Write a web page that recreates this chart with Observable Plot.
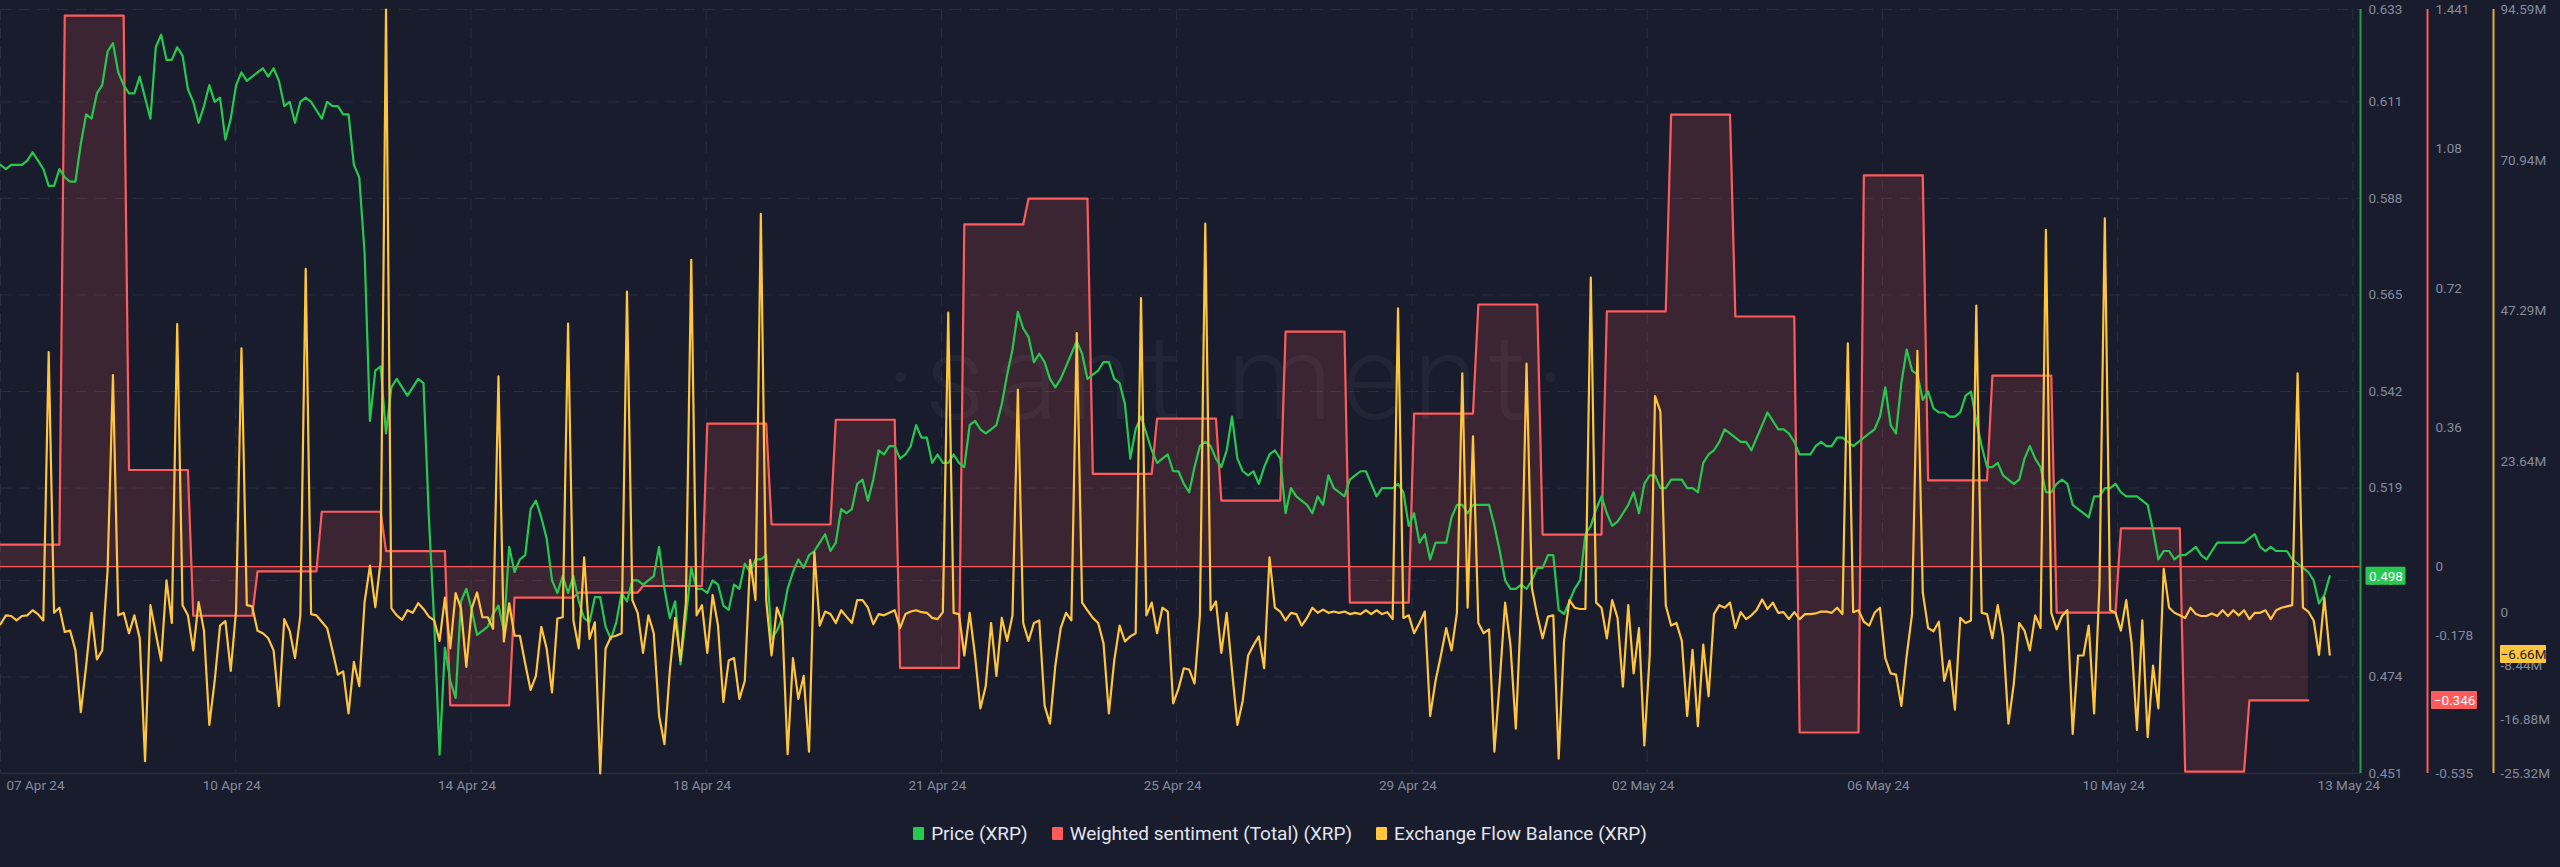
<!DOCTYPE html>
<html><head><meta charset="utf-8">
<script src="https://cdn.jsdelivr.net/npm/d3@7"></script>
<script src="https://cdn.jsdelivr.net/npm/@observablehq/plot@0.6"></script>
<style>
html,body{margin:0;padding:0;background:#191c2c;}
body{width:2560px;height:867px;overflow:hidden;font-family:Roboto,"Noto Sans",sans-serif;}
#legend{display:flex;justify-content:center;align-items:center;gap:24px;height:67px;color:#e2e5ee;font-size:19px;}
.item{display:flex;align-items:center;gap:7px}
.sw{width:11px;height:13px;border-radius:1px;display:inline-block}
</style></head><body>
<div id="chart"></div>
<div id="legend"></div>
<script>
// ---- data (2-hour steps from startTime) ----
const startTime = "2024-04-07T00:00:00Z";
const endTime = "2024-05-13T17:30:00Z";
const stepHours = 2;

const price = [
0.596,0.595,0.596,0.596,0.596,0.597,0.599,0.597,0.595,0.591,0.591,0.595,
0.593,0.592,0.592,0.601,0.608,0.607,0.613,0.615,0.623,0.625,0.618,0.615,
0.613,0.613,0.617,0.612,0.607,0.624,0.627,0.621,0.621,0.624,0.622,0.614,
0.611,0.606,0.610,0.615,0.611,0.612,0.602,0.607,0.615,0.618,0.616,0.617,
0.618,0.619,0.617,0.619,0.616,0.610,0.611,0.606,0.611,0.612,0.611,0.609,
0.607,0.611,0.610,0.610,0.608,0.608,0.596,0.593,0.575,0.535,0.547,0.548,
0.532,0.543,0.545,0.543,0.541,0.543,0.545,0.544,0.512,0.487,0.4555,0.481,
0.473,0.469,0.492,0.495,0.490,0.484,0.485,0.486,0.489,0.491,0.485,0.505,
0.499,0.502,0.503,0.514,0.516,0.512,0.507,0.497,0.494,0.498,0.494,0.498,
0.492,0.488,0.487,0.493,0.493,0.486,0.483,0.487,0.494,0.492,0.497,0.497,
0.496,0.497,0.498,0.505,0.495,0.488,0.492,0.477,0.488,0.500,0.495,0.495,
0.494,0.497,0.496,0.491,0.490,0.496,0.495,0.501,0.499,0.502,0.502,0.503,
0.483,0.485,0.488,0.495,0.499,0.502,0.500,0.503,0.504,0.506,0.508,0.504,
0.506,0.514,0.513,0.514,0.520,0.521,0.516,0.521,0.528,0.527,0.529,0.529,
0.526,0.527,0.529,0.534,0.531,0.531,0.525,0.527,0.525,0.525,0.527,0.525,
0.524,0.534,0.535,0.533,0.532,0.533,0.534,0.539,0.546,0.552,0.561,0.557,
0.555,0.549,0.551,0.549,0.545,0.543,0.545,0.548,0.551,0.554,0.551,0.545,
0.546,0.547,0.549,0.549,0.545,0.544,0.539,0.526,0.533,0.536,0.532,0.528,
0.525,0.526,0.527,0.523,0.523,0.520,0.518,0.524,0.529,0.530,0.529,0.526,
0.524,0.528,0.536,0.526,0.523,0.522,0.523,0.520,0.524,0.527,0.528,0.526,
0.513,0.519,0.517,0.516,0.515,0.513,0.517,0.515,0.522,0.519,0.518,0.517,
0.521,0.522,0.523,0.523,0.520,0.517,0.519,0.519,0.519,0.520,0.518,0.510,
0.513,0.506,0.508,0.502,0.506,0.506,0.506,0.512,0.515,0.515,0.513,0.515,
0.515,0.515,0.515,0.510,0.504,0.497,0.495,0.495,0.496,0.495,0.497,0.500,
0.500,0.503,0.503,0.490,0.489,0.492,0.495,0.497,0.508,0.510,0.514,0.517,
0.513,0.510,0.511,0.513,0.515,0.518,0.513,0.520,0.522,0.522,0.519,0.519,
0.521,0.521,0.521,0.519,0.519,0.518,0.525,0.527,0.528,0.530,0.533,0.532,
0.531,0.530,0.530,0.528,0.531,0.534,0.537,0.535,0.533,0.533,0.532,0.530,
0.527,0.527,0.527,0.529,0.530,0.529,0.529,0.531,0.531,0.530,0.529,0.530,
0.531,0.532,0.533,0.536,0.543,0.534,0.532,0.544,0.552,0.547,0.546,0.540,
0.542,0.538,0.537,0.537,0.536,0.536,0.537,0.541,0.542,0.535,0.529,0.524,
0.524,0.525,0.522,0.521,0.520,0.521,0.526,0.529,0.526,0.524,0.518,0.518,
0.520,0.521,0.520,0.515,0.514,0.513,0.512,0.517,0.517,0.519,0.519,0.520,
0.518,0.517,0.517,0.517,0.516,0.515,0.509,0.502,0.504,0.504,0.502,0.503,
0.503,0.504,0.505,0.503,0.502,0.504,0.506,0.506,0.506,0.506,0.506,0.506,
0.507,0.508,0.505,0.504,0.505,0.504,0.504,0.504,0.502,0.501,0.500,0.499,
0.497,0.4915,0.4935,0.498
];

const flowM = [
-1.9,-0.5,-0.6,-1.3,-0.6,-0.5,0.3,-0.3,-1.3,40.8,-0.1,0.7,
-3.1,-2.9,-6.0,-15.7,-8.4,-0.1,-7.4,-6.0,6.6,37.2,-0.5,-0.1,
-3.3,-0.5,-4.1,-23.4,1.1,-3.3,-7.6,5.0,-1.7,45.2,1.1,-0.5,
-6.0,1.6,-2.9,-17.7,-10.8,-2.1,-1.4,-9.2,0.3,41.4,1.1,0.9,
-2.9,-3.3,-4.1,-6.0,-14.7,-1.1,-2.9,-7.2,-0.5,53.9,-0.3,-0.5,
-1.5,-2.5,-6.0,-9.8,-9.3,-15.9,-7.8,-11.6,1.6,7.3,0.8,8.1,
94.59,0.6,-0.5,-1.2,0.3,-0.1,1.4,0.5,-0.7,-1.3,-4.5,2.3,
-5.7,3.0,0.6,-8.6,0.6,3.1,-0.8,-0.8,-2.6,37.0,-4.6,1.4,
-3.7,-3.7,-8.1,-12.2,-10.0,-2.3,-5.7,-12.6,-1.0,-0.8,45.3,-1.3,
-5.7,8.6,-4.2,-1.6,-25.32,-5.7,-3.9,-3.7,-3.3,50.3,1.9,-0.1,
-6.4,-0.5,-3.3,-16.3,-20.7,-9.2,-0.9,-7.6,1.5,55.3,-0.5,1.1,
-6.4,2.7,-2.1,-14.1,-7.6,-7.2,-13.6,-10.8,8.2,1.9,62.5,1.9,
-6.8,0.7,-1.5,-22.3,-7.2,-13.6,-10.0,-21.9,9.4,-2.1,0.1,-0.3,
-1.7,0.3,-0.7,-1.7,1.9,1.9,0.7,-1.9,-0.3,-0.5,-0.1,0.3,
-2.5,-0.3,0.1,0.3,0.0,-0.1,-0.9,-1.1,0.0,47.0,-0.1,-0.3,
-6.8,-0.1,-6.8,-15.1,-11.6,-1.7,-10.0,-0.9,-4.5,-0.5,34.9,-1.7,
-4.5,-1.7,-1.3,-14.7,-17.5,-8.4,-2.5,-0.1,-1.3,43.8,1.5,0.3,
-0.9,-1.7,-4.9,-15.9,-7.6,-2.1,-4.6,-3.8,-3.3,49.3,-0.5,1.5,
-3.3,0.7,0.1,-14.3,-12.0,-8.8,-9.0,-11.2,-0.5,61.0,0.3,1.7,
-6.4,-0.1,-9.2,-17.7,-13.9,-6.8,-5.2,-3.8,-8.8,8.6,0.7,0.1,
-1.3,-0.1,-0.3,-2.1,-0.9,0.7,-0.1,0.4,-0.1,0.1,-0.1,0.1,
-0.3,-0.1,-0.3,0.3,-0.3,0.3,-0.3,0.0,-1.1,47.7,-0.9,-0.5,
-3.3,-1.7,0.1,-16.3,-10.8,-6.8,-2.5,-6.0,-0.1,37.5,0.7,27.6,
-1.7,-3.3,-2.7,-21.9,-10.8,1.5,-5.2,-18.3,1.1,39.0,3.8,-0.5,
-4.1,-0.7,-0.5,-23.0,-4.5,1.9,0.7,0.5,0.5,52.5,1.5,0.7,
-4.1,1.9,-0.9,-11.7,1.1,-9.6,-2.5,-20.9,-6.8,33.9,31.5,1.1,
-2.1,-1.7,-4.5,-16.3,-5.9,-17.9,-5.1,-13.2,-0.3,1.1,0.7,1.5,
-2.5,0.0,-1.1,-0.5,0.4,2.0,0.5,1.5,-0.1,0.0,-1.1,0.0,
-1.1,-0.3,-0.3,-0.2,0.1,0.1,-0.1,0.7,-0.3,42.2,0.0,0.3,
-1.5,-2.1,-0.1,0.7,-7.2,-9.6,-9.8,-14.7,-6.8,-0.3,41.0,3.1,
-2.5,-3.0,-1.5,-10.8,-7.6,-15.3,-0.9,-1.7,-1.3,48.1,-0.1,-0.3,
-4.1,1.1,-3.8,-17.5,-11.2,-1.7,-2.9,-6.0,-0.5,-2.5,60.0,-0.1,
-2.7,-0.6,0.3,-19.1,-6.8,-6.8,-2.1,-15.9,4.2,61.8,0.3,-0.1,
-2.9,1.9,-4.9,-18.5,-1.3,-19.6,-8.4,-15.1,6.8,0.7,-0.1,-0.5,
-0.9,0.7,-0.3,-0.6,-0.6,-0.2,-0.6,0.3,-0.6,0.3,-0.5,0.3,
-1.1,-0.1,-0.1,0.3,-1.1,0.3,0.7,0.9,1.1,37.5,0.7,0.1,
-1.3,-6.7,2.3,-6.66
];

// one value per day (07 Apr .. 12 May)
const sentimentDaily = [
0.057,1.425,0.250,-0.127,-0.012,0.142,0.040,-0.359,-0.080,-0.067,-0.050,0.370,
0.109,0.380,-0.262,0.885,0.952,0.240,0.383,0.171,0.608,-0.093,0.396,0.678,
0.083,0.660,1.169,0.647,-0.429,1.012,0.223,0.494,-0.119,0.099,-0.530,-0.346
];

const xTickDates = ["2024-04-07T00:00Z","2024-04-10T15:52Z","2024-04-14T07:44Z","2024-04-17T23:35Z",
"2024-04-21T15:27Z","2024-04-25T07:19Z","2024-04-28T23:11Z","2024-05-02T15:03Z","2024-05-06T06:55Z",
"2024-05-09T22:47Z","2024-05-13T14:38Z"];
const xTickLabels = ["07 Apr 24","10 Apr 24","14 Apr 24","18 Apr 24","21 Apr 24","25 Apr 24",
"29 Apr 24","02 May 24","06 May 24","10 May 24","13 May 24"];

const priceDomain = [0.451, 0.633];
const priceTicks = [0.633,0.611,0.588,0.565,0.542,0.519,0.497,0.474,0.451];
const sentDomain = [-0.535, 1.441];
const sentTicks = [1.441,1.08,0.72,0.36,0,-0.178,-0.535];
const sentTickLabels = ["1.441","1.08","0.72","0.36","0","-0.178","-0.535"];
const flowDomain = [-25.32, 94.59];
const flowTicks = [94.59,70.94,47.29,23.64,0,-8.44,-16.88,-25.32];
const flowTickLabels = ["94.59M","70.94M","47.29M","23.64M","0","-8.44M","-16.88M","-25.32M"];

const seriesNames = ["Price (XRP)","Weighted sentiment (Total) (XRP)","Exchange Flow Balance (XRP)"];
const watermark = "·santiment·";
const colors = {price:"#26c94f", priceAxis:"#22a142", sent:"#ff5b5b", flow:"#ffc53d", flowAxis:"#e0ad35"};

// ---- build ----
const t0 = new Date(startTime).getTime();
const step = stepHours*3600*1000;
const at = i => new Date(t0 + i*step);
const toP = (v, dom) => priceDomain[0] + (v - dom[0])/(dom[1]-dom[0])*(priceDomain[1]-priceDomain[0]);

const priceRows = price.map((v,i)=>({t:at(i), v}));
const flowRows = flowM.map((v,i)=>({t:at(i), v:toP(v, flowDomain)}));
const sentRows = [];
sentimentDaily.forEach((v,d)=>{ for(let k=0;k<12;k++) sentRows.push({t:at(d*12+k), v:toP(v, sentDomain)}); });
const zeroP = toP(0, sentDomain);
const xEnd = new Date(endTime);
const xTicks = xTickDates.map(d=>new Date(d));
const sentMap = new Map(sentTicks.map((v,i)=>[toP(v,sentDomain), sentTickLabels[i]]));
const flowMap = new Map(flowTicks.map((v,i)=>[toP(v,flowDomain), flowTickLabels[i]]));

const lastPrice = price[price.length-1];
const lastSent = sentimentDaily[sentimentDaily.length-1];
const lastFlow = flowM[flowM.length-1];
const hP = 9*(priceDomain[1]-priceDomain[0])/764;

const badge = (yv, dx, w, fill) => Plot.rect([0], {x1: xEnd, x2: xEnd, y1: yv - hP, y2: yv + hP, dx, insetLeft: -w/2, insetRight: -w/2, fill, rx: 1});
const axisGray = "#858b9f";

const chart = Plot.plot({
  width: 2560, height: 800,
  marginLeft: 0, marginRight: 200, marginTop: 9, marginBottom: 27,
  style: {background: "transparent", color: axisGray, fontFamily: "Roboto, sans-serif", fontSize: "13.5px", overflow: "visible"},
  x: {type: "utc", domain: [new Date(startTime), xEnd], axis: null, label: null},
  y: {domain: priceDomain, axis: null, label: null},
  marks: [
    Plot.gridY(priceTicks, {stroke: "#2a2e41", strokeOpacity: 1, strokeDasharray: "11,8"}),
    Plot.gridX(xTicks, {stroke: "#2a2e41", strokeOpacity: 1, strokeDasharray: "11,8"}),
    Plot.ruleY([priceDomain[0]], {stroke: "#2a2d3e", strokeWidth: 1.5}),
    Plot.text([watermark], {frameAnchor: "middle", dx: 50, dy: -10, fontSize: 118, fontWeight: 300, fill: "#ffffff", fillOpacity: 0.045}),
    Plot.areaY(sentRows, {x: "t", y1: zeroP, y2: "v", fill: colors.sent, fillOpacity: 0.15}),
    Plot.ruleY([zeroP], {stroke: colors.sent, strokeWidth: 1.2}),
    Plot.line(sentRows, {x: "t", y: "v", stroke: colors.sent, strokeWidth: 2.2}),
    Plot.line(priceRows, {x: "t", y: "v", stroke: colors.price, strokeWidth: 2.2}),
    Plot.line(flowRows, {x: "t", y: "v", stroke: colors.flow, strokeWidth: 2.2}),
    Plot.ruleX([xEnd], {stroke: colors.priceAxis, strokeWidth: 2}),
    Plot.ruleX([xEnd], {stroke: colors.sent, strokeWidth: 2, dx: 67}),
    Plot.ruleX([xEnd], {stroke: colors.flowAxis, strokeWidth: 2, dx: 133}),
    Plot.axisY({anchor: "right", label: null, ticks: priceTicks, tickSize: 0, tickPadding: 8, tickFormat: d3.format(".3f"), fill: axisGray}),
    Plot.axisY({anchor: "right", label: null, ticks: sentTicks.map(v=>toP(v,sentDomain)), tickSize: 0, tickPadding: 8, dx: 67, tickFormat: d => sentMap.get(d), fill: axisGray}),
    Plot.axisY({anchor: "right", label: null, ticks: flowTicks.map(v=>toP(v,flowDomain)), tickSize: 0, tickPadding: 7, dx: 133, tickFormat: d => flowMap.get(d), fill: axisGray}),
    Plot.text(xTicks, {filter: (d,i)=> i===0, x: d=>d, text: d=>xTickLabels[0], frameAnchor: "bottom", dy: 16, dx: 6, textAnchor: "start", fontSize: 13.5, fill: axisGray}),
    Plot.text(xTicks, {filter: (d,i)=> i>0, x: d=>d, text: d=>xTickLabels[xTicks.indexOf(d)], frameAnchor: "bottom", dy: 16, dx: -4, textAnchor: "middle", fontSize: 13.5, fill: axisGray}),
    badge(lastPrice, 25.5, 40, "#26c94f"),
    Plot.text([lastPrice], {x: xEnd, y: d=>d, text: d=>d3.format(".3f")(d), dx: 25.5, fill: "#ffffff", fontSize: 13.5}),
    badge(toP(lastSent, sentDomain), 94, 46, "#ff5b5b"),
    Plot.text([lastSent], {x: xEnd, y: d=>toP(d,sentDomain), text: d=>d3.format(".3f")(d), dx: 94, fill: "#ffffff", fontSize: 13.5}),
    badge(toP(lastFlow, flowDomain), 163, 46, "#ffc53d"),
    Plot.text([lastFlow], {x: xEnd, y: d=>toP(d,flowDomain), text: d=>d3.format(".2f")(d)+"M", dx: 163, fill: "#1a1c28", fontSize: 13.5})
  ]
});
d3.select(chart).selectAll("text").each(function(){ if ((this.textContent || "").indexOf("santiment") >= 0) this.setAttribute("letter-spacing", "10"); });
document.getElementById("chart").appendChild(chart);

const legend = document.getElementById("legend");
[colors.price, colors.sent, colors.flow].forEach((c,i)=>{
  const it = document.createElement("div"); it.className = "item";
  const sw = document.createElement("span"); sw.className = "sw"; sw.style.background = c;
  const tx = document.createElement("span"); tx.textContent = seriesNames[i];
  it.appendChild(sw); it.appendChild(tx); legend.appendChild(it);
});
</script>
</body></html>
